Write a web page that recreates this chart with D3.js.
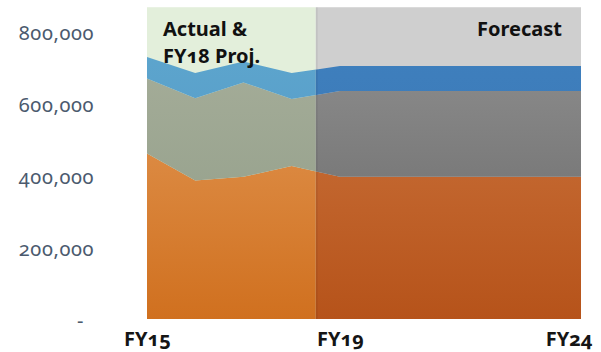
<!DOCTYPE html>
<html>
<head>
<meta charset="utf-8">
<script src="https://cdn.jsdelivr.net/npm/d3@7"></script>
<style>
  html, body { margin: 0; padding: 0; background: #fff; }
  svg { display: block; }
  .ylab text { font-family: "Noto Sans", sans-serif; font-size: 20px; letter-spacing: 0.6px; fill: #4b5a6e; font-variant-numeric: oldstyle-nums; }
  .xlab text { font-family: "Noto Sans", sans-serif; font-weight: bold; font-size: 20px; fill: #151515; font-variant-numeric: oldstyle-nums; }
  .zone-label { font-family: "Noto Sans", sans-serif; font-weight: bold; font-size: 20px; fill: #111; font-variant-numeric: oldstyle-nums; }
</style>
</head>
<body>
<svg id="chart" width="601" height="352"></svg>
<script>
// Fiscal years on the horizontal axis
const years = ["FY15", "FY16", "FY17", "FY18", "FY19", "FY20", "FY21", "FY22", "FY23", "FY24"];
// Stacked series, bottom to top
const seriesOrange = [460000, 385000, 395000, 425000, 395000, 395000, 395000, 395000, 395000, 395000];
const seriesGray   = [208000, 228000, 262000, 186000, 238000, 238000, 238000, 238000, 238000, 238000];
const seriesBlue   = [60000, 70000, 58000, 72000, 70000, 70000, 70000, 70000, 70000, 70000];
// Axis labels
const yTicks = [0, 200000, 400000, 600000, 800000];
const xTickLabels = ["FY15", "FY19", "FY24"];
// Period split: actual years up to FY18, forecast from FY19
const lastActual = "FY18";
const firstForecast = "FY19";
const chartTopValue = 866000;

const svg = d3.select("#chart");
const left = 147, right = 581, bottom = 319;

const x = d3.scalePoint().domain(years).range([left, right]);
const y = d3.scaleLinear().domain([0, 800000]).range([bottom, 31]);

const rows = years.map((yr, i) => ({ year: yr, orange: seriesOrange[i], gray: seriesGray[i], blue: seriesBlue[i] }));
const stack = d3.stack().keys(["orange", "gray", "blue"]);
const layers = stack(rows);

const splitX = (x(lastActual) + x(firstForecast)) / 2;
const topY = y(chartTopValue);

const defs = svg.append("defs");
function grad(id, c1, c2) {
  const g = defs.append("linearGradient").attr("id", id)
    .attr("gradientUnits", "userSpaceOnUse")
    .attr("x1", 0).attr("x2", 0).attr("y1", topY).attr("y2", bottom);
  g.append("stop").attr("offset", "0%").attr("stop-color", c1);
  g.append("stop").attr("offset", "100%").attr("stop-color", c2);
}
// Actual period tints
grad("gA-orange", "#e6a060", "#d0701f");
grad("gA-gray", "#a9b09c", "#8e9b86");
grad("gA-blue", "#5fa8cf", "#4f92c2");
// Forecast period tints
grad("gF-orange", "#d07b45", "#b6531a");
grad("gF-gray", "#939393", "#656565");
grad("gF-blue", "#3f82c0", "#3a70ae");

defs.append("clipPath").attr("id", "clipA").append("rect")
  .attr("x", left).attr("y", topY).attr("width", splitX - left).attr("height", bottom - topY);
defs.append("clipPath").attr("id", "clipF").append("rect")
  .attr("x", splitX).attr("y", topY).attr("width", right - splitX).attr("height", bottom - topY);

// Period backgrounds
svg.append("rect").attr("x", left).attr("y", topY).attr("width", splitX - left).attr("height", bottom - topY).attr("fill", "#e3efdb");
svg.append("rect").attr("x", splitX).attr("y", topY).attr("width", right - splitX).attr("height", bottom - topY).attr("fill", "#cfcfcf");

const area = d3.area()
  .x(d => x(d.data.year))
  .y0(d => y(d[0]))
  .y1(d => y(d[1]));

["A", "F"].forEach(p => {
  const g = svg.append("g").attr("clip-path", `url(#clip${p})`);
  g.selectAll("path").data(layers).join("path")
    .attr("d", area)
    .attr("fill", d => `url(#g${p}-${d.key})`);
});

// Thin seam between periods
svg.append("line").attr("x1", splitX + 1).attr("x2", splitX + 1).attr("y1", topY).attr("y2", bottom)
  .attr("stroke", "#000").attr("stroke-opacity", 0.06).attr("stroke-width", 2);

// Y axis
const yAxis = d3.axisLeft(y).tickValues(yTicks).tickSize(0).tickPadding(53)
  .tickFormat(v => v === 0 ? "-" : d3.format(",")(v));
const ya = svg.append("g").attr("class", "ylab").attr("transform", `translate(${left},0)`).call(yAxis);
ya.select(".domain").remove();
ya.selectAll("text").attr("dy", "0.42em")
  .attr("dx", d => d === 0 ? -10 : 0);

// X axis
const xAxis = d3.axisBottom(x).tickValues(xTickLabels).tickSize(0);
const xa = svg.append("g").attr("class", "xlab").attr("transform", `translate(0,${bottom})`).call(xAxis);
xa.select(".domain").remove();
xa.selectAll("text").attr("y", 27).attr("dy", null)
  .attr("text-anchor", d => d === years[years.length - 1] ? "end" : "middle")
  .attr("dx", d => d === years[years.length - 1] ? 11 : 0);

// Period labels
const za = svg.append("text").attr("class", "zone-label").attr("x", left + 16).attr("y", 36);
za.append("tspan").attr("x", left + 16).text("Actual &");
za.append("tspan").attr("x", left + 16).attr("dy", 27).text("FY18 Proj.");
svg.append("text").attr("class", "zone-label").attr("x", right - 19).attr("y", 36)
  .attr("text-anchor", "end").text("Forecast");
</script>
</body>
</html>
